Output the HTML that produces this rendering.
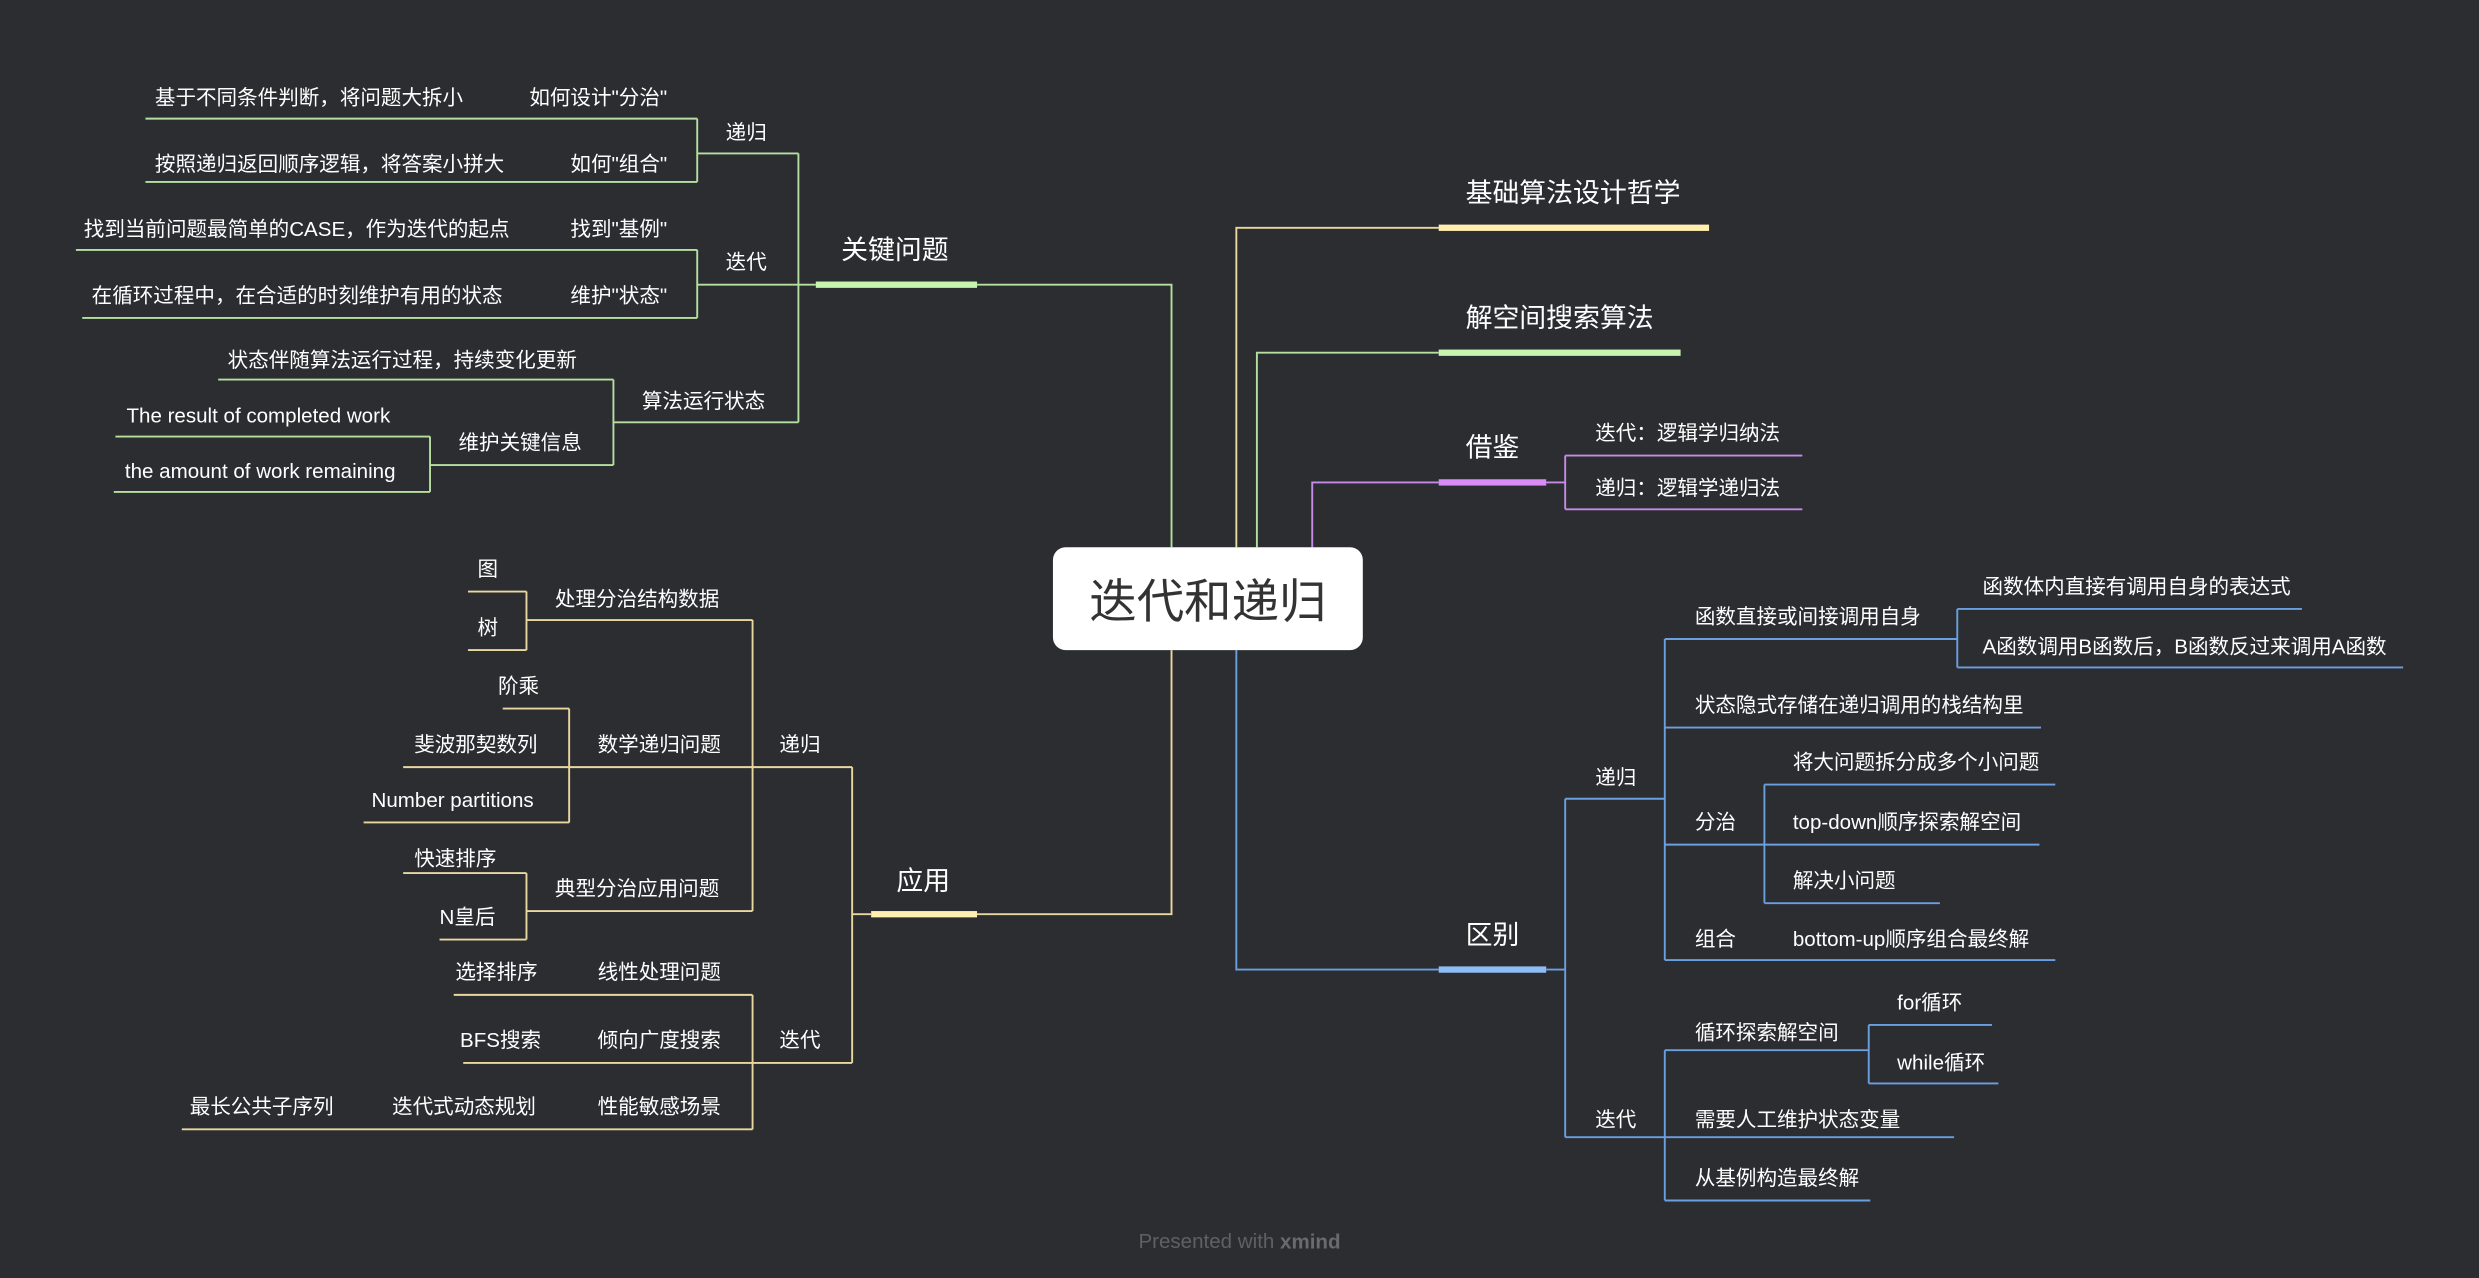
<!DOCTYPE html>
<html><head><meta charset="utf-8"><style>
html,body{margin:0;padding:0;background:#2c2d31;}
svg{display:block;}
text{font-family:"Liberation Sans","Noto Sans CJK SC",sans-serif;fill:#fff;dominant-baseline:central;}
.s{font-size:13px;}
.m{font-size:17px;}
</style></head><body>
<svg width="2479" height="1278" viewBox="0 0 1568 808" preserveAspectRatio="none" xmlns="http://www.w3.org/2000/svg">
<rect width="1568" height="808" fill="#2c2d31"/>
<g fill="none" stroke-width="1.2">
<!-- right yellow -->
<path d="M782 346V144H910" stroke="#e8d8a0"/>
<!-- right green -->
<path d="M795 346V223H910" stroke="#b5e0a0"/>
<!-- purple -->
<path d="M830 346V305H910M978 305H990M990 288V322M990 288H1140M990 322H1140" stroke="#c58be6"/>
<!-- blue -->
<g stroke="#6a9fe0">
<path d="M782 411V613H910M978 613H990M990 505V719"/>
<path d="M990 505H1053M1053 404V607M1053 404H1238M1238 385V422M1238 385H1456M1238 422H1520"/>
<path d="M1053 460H1291M1053 534H1116M1116 496V571M1116 496H1300M1116 534H1290M1116 571H1227M1053 607H1300"/>
<path d="M990 719H1053M1053 664V759M1053 664H1182M1182 648V685M1182 648H1260M1182 685H1264M1053 719H1236M1053 759H1183"/>
</g>
<!-- left green -->
<g stroke="#b5e0a0">
<path d="M741 346V180H618M516 180H505M505 97V267"/>
<path d="M505 97H441M441 75V115M441 75H92M441 115H92"/>
<path d="M505 180H441M441 158V201M441 158H48M441 201H52"/>
<path d="M505 267H388M388 240V294M388 240H138M388 294H272M272 276V311M272 276H73M272 311H72"/>
</g>
<!-- left yellow -->
<g stroke="#e8d8a0">
<path d="M741 411V578H618M551 578H539M539 485V672"/>
<path d="M539 485H476M476 392V576M476 392H333M333 374V411M333 374H296M333 411H296"/>
<path d="M476 485H360M360 448V520M360 448H318M360 485H255M360 520H230"/>
<path d="M476 576H333M333 552V594M333 552H255M333 594H278"/>
<path d="M539 672H476M476 629V714M476 629H287M476 672H293M476 714H115"/>
</g>
</g>
<!-- bars -->
<rect x="910" y="142" width="171" height="4" fill="#ffeeb0"/>
<rect x="910" y="221" width="153" height="4" fill="#c6f5b0"/>
<rect x="910" y="303" width="68" height="4" fill="#d98cf5"/>
<rect x="910" y="611" width="68" height="4" fill="#8ebcf5"/>
<rect x="516" y="178" width="102" height="4" fill="#c6f5b0"/>
<rect x="551" y="576" width="67" height="4" fill="#ffeeb0"/>
<!-- root -->
<rect x="666" y="346" width="196" height="65" rx="8" fill="#fff"/>
<text x="764" y="381" text-anchor="middle" style="font-size:30px;fill:#333">迭代和递归</text>
<!-- main topics -->
<text class="m" x="927" y="122">基础算法设计哲学</text>
<text class="m" x="927" y="201">解空间搜索算法</text>
<text class="m" x="927" y="283">借鉴</text>
<text class="m" x="927" y="591">区别</text>
<text class="m" x="532" y="158">关键问题</text>
<text class="m" x="567" y="557">应用</text>
<!-- right labels -->
<g class="s">
<text class="s" x="1009" y="274">迭代：逻辑学归纳法</text>
<text class="s" x="1009" y="309">递归：逻辑学递归法</text>
<text class="s" x="1009" y="492">递归</text>
<text class="s" x="1072" y="390">函数直接或间接调用自身</text>
<text class="s" x="1254" y="371">函数体内直接有调用自身的表达式</text>
<text class="s" x="1254" y="409">A函数调用B函数后，B函数反过来调用A函数</text>
<text class="s" x="1072" y="446">状态隐式存储在递归调用的栈结构里</text>
<text class="s" x="1072" y="520">分治</text>
<text class="s" x="1134" y="482">将大问题拆分成多个小问题</text>
<text class="s" x="1134" y="520">top-down顺序探索解空间</text>
<text class="s" x="1134" y="557">解决小问题</text>
<text class="s" x="1072" y="594">组合</text>
<text class="s" x="1134" y="594">bottom-up顺序组合最终解</text>
<text class="s" x="1009" y="708">迭代</text>
<text class="s" x="1072" y="653">循环探索解空间</text>
<text class="s" x="1200" y="634">for循环</text>
<text class="s" x="1200" y="672">while循环</text>
<text class="s" x="1072" y="708">需要人工维护状态变量</text>
<text class="s" x="1072" y="745">从基例构造最终解</text>
<!-- left labels -->
<text class="s" x="459" y="84">递归</text>
<text class="s" x="422" y="62" text-anchor="end">如何设计"分治"</text>
<text class="s" x="98" y="62">基于不同条件判断，将问题大拆小</text>
<text class="s" x="422" y="104" text-anchor="end">如何"组合"</text>
<text class="s" x="98" y="104">按照递归返回顺序逻辑，将答案小拼大</text>
<text class="s" x="459" y="166">迭代</text>
<text class="s" x="422" y="145" text-anchor="end">找到"基例"</text>
<text class="s" x="53" y="145">找到当前问题最简单的CASE，作为迭代的起点</text>
<text class="s" x="422" y="187" text-anchor="end">维护"状态"</text>
<text class="s" x="58" y="187">在循环过程中，在合适的时刻维护有用的状态</text>
<text class="s" x="406" y="254">算法运行状态</text>
<text class="s" x="144" y="228">状态伴随算法运行过程，持续变化更新</text>
<text class="s" x="290" y="280">维护关键信息</text>
<text class="s" x="80" y="263">The result of completed work</text>
<text class="s" x="79" y="298">the amount of work remaining</text>
<text class="s" x="493" y="471">递归</text>
<text class="s" x="351" y="379">处理分治结构数据</text>
<text class="s" x="302" y="360">图</text>
<text class="s" x="302" y="397">树</text>
<text class="s" x="378" y="471">数学递归问题</text>
<text class="s" x="315" y="434">阶乘</text>
<text class="s" x="262" y="471">斐波那契数列</text>
<text class="s" x="235" y="506">Number partitions</text>
<text class="s" x="351" y="562">典型分治应用问题</text>
<text class="s" x="262" y="543">快速排序</text>
<text class="s" x="278" y="580">N皇后</text>
<text class="s" x="493" y="658">迭代</text>
<text class="s" x="378" y="615">线性处理问题</text>
<text class="s" x="288" y="615">选择排序</text>
<text class="s" x="378" y="658">倾向广度搜索</text>
<text class="s" x="291" y="658">BFS搜索</text>
<text class="s" x="378" y="700">性能敏感场景</text>
<text class="s" x="248" y="700">迭代式动态规划</text>
<text class="s" x="120" y="700">最长公共子序列</text>
</g>
<text x="784" y="785" text-anchor="middle" style="font-size:13px;fill:#5f6064">Presented with <tspan style="font-weight:bold;fill:#6a6b6f">xmind</tspan></text>
</svg>
</body></html>
